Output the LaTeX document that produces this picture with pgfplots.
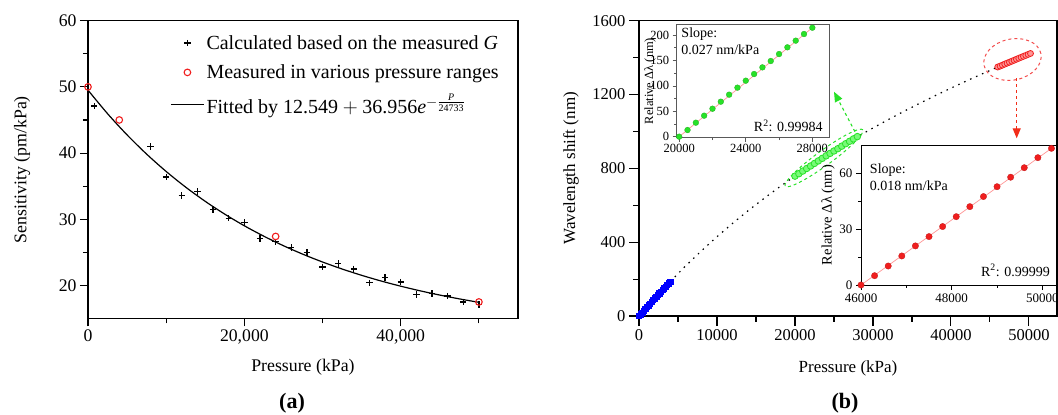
\documentclass[border=0pt]{standalone}
\usepackage{fontspec}
\setmainfont{Liberation Serif}
\usepackage{amsmath}
\usepackage{pgfplots}
\usepackage{pgfplotstable}
\pgfplotsset{compat=1.18}
\usetikzlibrary{arrows.meta}
\definecolor{cgreen}{RGB}{40,225,40}
\definecolor{cgreenl}{RGB}{120,250,120}
\definecolor{cred}{RGB}{240,30,30}
\definecolor{cpink}{RGB}{255,150,150}

\pgfplotstableread{
P S
800 47.1
8000 41.0
10000 36.4
12000 33.6
14000 34.2
16000 31.5
18000 30.15
20000 29.5
22000 27.1
24000 26.6
26000 25.7
28000 25.0
30000 22.8
32000 23.3
34000 22.5
36000 20.4
38000 21.2
40000 20.5
42000 18.6
44000 18.8
46000 18.4
48000 17.5
50000 17.1
}\calc
\pgfplotstableread{
P S
0 50.0
4000 45.0
24000 27.4
50000 17.5
}\meas
\pgfplotstableread{
P S
0 49.505
2500 45.952
5000 42.741
7500 39.838
10000 37.215
12500 34.843
15000 32.700
17500 30.763
20000 29.011
22500 27.428
25000 25.998
27500 24.705
30000 23.536
32500 22.480
35000 21.525
37500 20.662
40000 19.882
42500 19.177
45000 18.540
47500 17.964
50000 17.443
}\fit
\pgfplotstableread{
P W
0 0
200 9.87
400 19.68
600 29.43
800 39.13
1000 48.76
1200 58.33
1400 67.84
1600 77.30
1800 86.69
2000 96.02
2200 105.30
2400 114.51
2600 123.66
2800 132.76
3000 141.79
3200 150.77
3400 159.68
3600 168.54
3800 177.33
4000 186.07
}\blue
\pgfplotstableread{
P W
4000 186.7
6000 272.2
8000 353.0
10000 429.5
12000 502.0
14000 570.8
16000 636.2
18000 698.5
20000 757.8
22000 814.6
24000 869.0
26000 920.8
28000 970.7
30000 1018.7
32000 1065.0
34000 1109.5
36000 1152.6
38000 1194.2
40000 1234.6
42000 1273.8
44000 1311.9
46000 1349.0
}\dotc
\pgfplotstableread{
P W R
20000 757.8 0
20500 770.9 13.1
21000 785.3 27.5
21500 799.1 41.3
22000 812.8 55.0
22500 826.6 68.8
23000 840.4 82.6
23500 854.2 96.4
24000 867.9 110.1
24500 881.0 123.2
25000 894.1 136.3
25500 906.6 148.8
26000 920.3 162.5
26500 933.5 175.7
27000 946.6 188.8
27500 959.7 201.9
28000 972.1 214.3
}\green
\pgfplotstableread{
P W R
46000 1349.0 0
46300 1354.0 5.0
46600 1359.2 10.2
46900 1364.6 15.6
47200 1370.0 21.0
47500 1375.0 26.0
47800 1380.4 31.4
48100 1385.7 36.7
48400 1391.1 42.1
48700 1396.5 47.5
49000 1401.8 52.8
49300 1406.9 57.9
49600 1412.0 63.0
49900 1417.4 68.4
50200 1422.4 73.4
}\red

\pgfplotsset{
  base/.style={
    scale only axis, anchor=south west,
    tick align=outside, tick pos=left,
    scaled ticks=false,
    /pgf/number format/assume math mode=true,
    /pgf/number format/1000 sep={},
    axis line style={line width=1.1pt},
    every tick/.style={line width=1.1pt, black},
    clip=false,
  },
}

\begin{document}
\begin{tikzpicture}[x=1pt,y=1pt]
\useasboundingbox (0,0) rectangle (1058,415);

% ---------- (a) ----------
\begin{axis}[base,
  at={(88pt,96.5pt)}, width=430pt, height=297.8pt,
  xmin=0, xmax=55000, ymin=15, ymax=60,
  xtick={0,20000,40000}, minor xtick={10000,30000,50000},
  ytick={20,30,40,50,60}, minor ytick={25,35,45,55},
  major tick length=8pt, minor tick length=5pt,
  x tick label style={/pgf/number format/1000 sep={,}},
  tick label style={font=\fontsize{17.7}{20}\selectfont},
  xlabel={Pressure (kPa)},
  ylabel={Sensitivity (pm/kPa)},
  xlabel style={font=\fontsize{17.8}{20}\selectfont, at={(axis description cs:0.5,-0.165)}, anchor=center},
  ylabel style={font=\fontsize{17.8}{20}\selectfont, at={(axis description cs:-0.153,0.5)}, anchor=center},
  legend style={at={(axis description cs:0.184,0.965)}, anchor=north west,
    draw=none, fill=none, font=\fontsize{20}{23}\selectfont, row sep=10pt},
  legend cell align=left,
  legend image code/.code={\draw[mark repeat=2,mark phase=2] plot coordinates {(0pt,0pt)(16.5pt,0pt)(33pt,0pt)};},
]
\addplot[only marks, mark=+, mark size=3.2pt, line width=1.3pt, black] table[x=P,y=S]{\calc};
\addlegendentry{Calculated based on the measured \textit{G}}
\addplot[only marks, mark=o, mark size=3.3pt, line width=1.1pt, cred] table[x=P,y=S]{\meas};
\addlegendentry{Measured in various pressure ranges}
\addplot[no marks, black, line width=1.2pt, smooth] table[x=P,y=S]{\fit};
\addlegendentry{Fitted by 12.549${}+{}$36.956\textit{e}$^{-\frac{\text{\textit{P}}}{\text{24733}}}$}
\end{axis}
\node[font=\bfseries\fontsize{22}{24}\selectfont] at (292,12) {(a)};

% ---------- (b) main ----------
\begin{axis}[base,
  at={(639pt,99pt)}, width=418pt, height=295.3pt,
  xmin=0, xmax=53600, ymin=0, ymax=1600,
  xtick={0,10000,...,50000}, minor xtick={5000,15000,...,55000},
  ytick={0,400,...,1600}, minor ytick={200,600,1000,1400},
  major tick length=10pt, minor tick length=6pt,
  tick label style={font=\fontsize{16.5}{19}\selectfont},
  xlabel={Pressure (kPa)},
  ylabel={Wavelength shift (nm)},
  xlabel style={font=\fontsize{17}{20}\selectfont, at={(axis description cs:0.5,-0.177)}, anchor=center},
  ylabel style={font=\fontsize{17}{20}\selectfont, at={(axis description cs:-0.163,0.5)}, anchor=center},
]
\addplot[no marks, black, line width=1.2pt, dash pattern=on 1.5pt off 5pt] table[x=P,y=W]{\dotc};
\addplot[only marks, mark=square*, mark size=2.6pt, blue, mark options={fill=blue}] table[x=P,y=W]{\blue};
\addplot[only marks, mark=*, mark size=3.3pt, cgreen, mark options={fill=cgreenl, line width=0.8pt}] table[x=P,y=W]{\green};
\addplot[only marks, mark=*, mark size=3pt, cred, mark options={fill=cpink, line width=0.8pt}] table[x=P,y=W]{\red};
\draw[cgreen, dashed, line width=1pt, rotate around={36:(axis cs:23722,856)}] (axis cs:23722,856) ellipse [x radius=48pt, y radius=7.5pt];
\draw[cred!80, dashed, line width=1pt, rotate around={12:(axis cs:47893,1389.7)}] (axis cs:47893,1389.7) ellipse [x radius=29pt, y radius=20.5pt];
\draw[cgreen, dashed, line width=1.1pt, -{Triangle[length=10pt,width=8pt]}] (axis cs:27697,998.5) -- (axis cs:25005,1215);
\draw[cred!85!orange, dashed, line width=1.1pt, -{Triangle[length=10pt,width=8pt]}] (axis cs:48432,1289.5) -- (axis cs:48432,962.8);
\end{axis}
\node[font=\bfseries\fontsize{22}{24}\selectfont] at (845,12) {(b)};

% ---------- green inset ----------
\begin{axis}[base,
  at={(676.7pt,277.3pt)}, width=152.3pt, height=113.4pt,
  axis background/.style={fill=white},
  axis line style={line width=0.7pt, black!65},
  every tick/.style={line width=0.6pt, black!65},
  xmin=19850, xmax=29000, ymin=-2, ymax=221,
  xtick={20000,24000,28000}, minor xtick={22000,26000},
  ytick={0,50,...,200}, minor ytick={25,75,...,175},
  major tick length=4pt, minor tick length=2.5pt,
  tick label style={font=\fontsize{12.5}{14}\selectfont},
  xticklabel style={yshift=1pt},
  ylabel={Relative Δλ (nm)},
  ylabel style={font=\fontsize{12.5}{14}\selectfont, at={(axis description cs:-0.175,0.5)}, anchor=center},
  clip=true,
]
\addplot[no marks, cpink, line width=0.7pt] coordinates {(20000,0) (28000,214.3)};
\addplot[only marks, mark=*, mark size=2.9pt, cgreen, mark options={fill=cgreen, draw=cgreen!80!black, line width=0.3pt}] table[x=P,y=R]{\green};
\node[anchor=north west, align=left, font=\fontsize{14}{17}\selectfont, inner sep=0pt] at (axis description cs:0.03,0.97) {Slope:\\0.027 nm/kPa};
\node[anchor=south east, font=\fontsize{14}{17}\selectfont, inner sep=0pt] at (axis description cs:0.96,0.05) {R\textsuperscript{2}: 0.99984};
\end{axis}

% ---------- red inset ----------
\begin{axis}[base,
  at={(861pt,130pt)}, width=195pt, height=140pt,
  axis background/.style={fill=white},
  axis line style={line width=0.8pt, black},
  every tick/.style={line width=0.7pt, black},
  xmin=46000, xmax=50300, ymin=0, ymax=75.2,
  xtick={46000,48000,50000}, minor xtick={47000,49000},
  ytick={0,30,60}, minor ytick={15,45},
  major tick length=5pt, minor tick length=3pt,
  tick label style={font=\fontsize{13}{15}\selectfont},
  ylabel={Relative Δλ (nm)},
  ylabel style={font=\fontsize{14.5}{16}\selectfont, at={(axis description cs:-0.169,0.5)}, anchor=center},
  clip=true,
]
\addplot[no marks, cpink, line width=0.7pt] coordinates {(46000,0) (50200,73.4)};
\addplot[only marks, mark=*, mark size=3.2pt, cred, mark options={fill=cred, draw=cred!80!black, line width=0.3pt}] table[x=P,y=R]{\red};
\node[anchor=north west, align=left, font=\fontsize{14}{17}\selectfont, inner sep=0pt] at (axis description cs:0.045,0.87) {Slope:\\0.018 nm/kPa};
\node[anchor=south east, font=\fontsize{14}{17}\selectfont, inner sep=0pt] at (axis description cs:0.97,0.06) {R\textsuperscript{2}: 0.99999};
\end{axis}
\end{tikzpicture}
\end{document}
